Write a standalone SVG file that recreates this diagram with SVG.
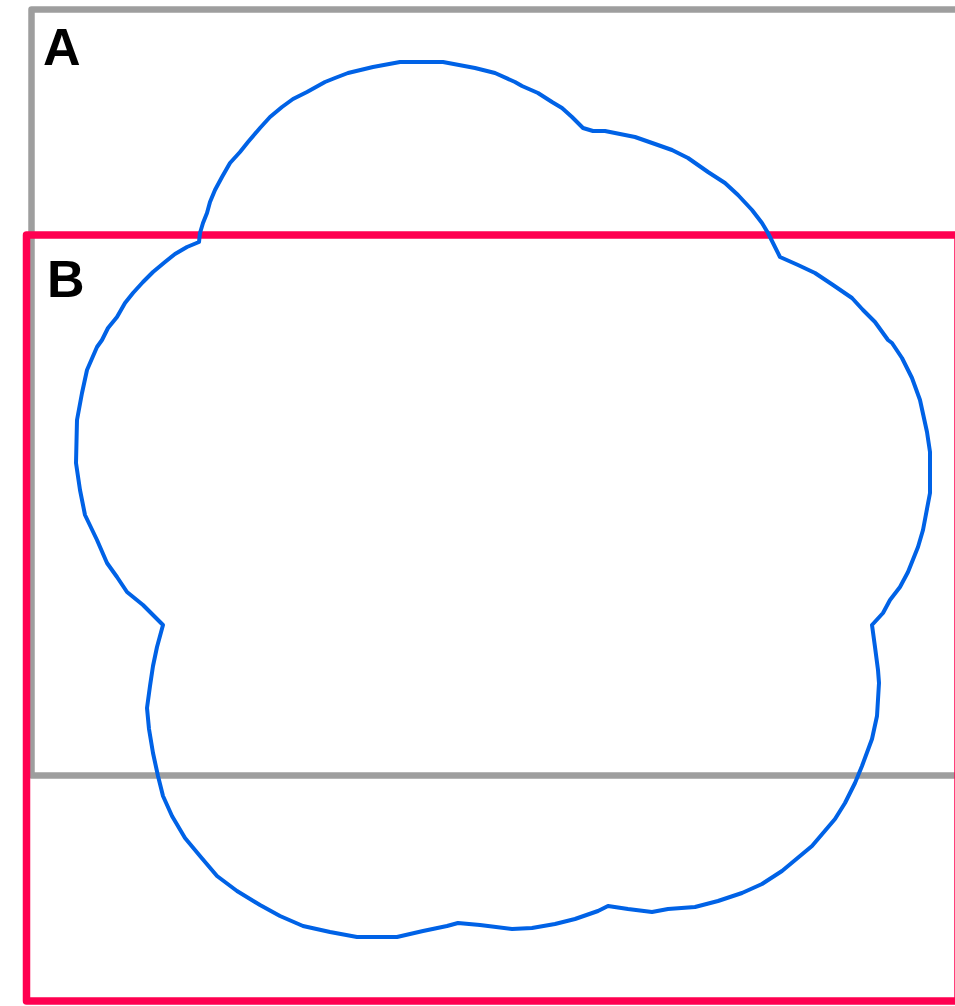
<svg xmlns="http://www.w3.org/2000/svg" width="955" height="1006" viewBox="0 0 955 1006">
<style>
.frame{fill:none;stroke-linejoin:round}
.a{stroke:#9e9e9e;stroke-width:6.5}
.b{stroke:#ff0050;stroke-width:7.5}
.lbl{font-family:"Liberation Sans",Arial,sans-serif;font-weight:bold;font-size:52px;fill:#000}
.blob{fill:none;stroke:#0062e6;stroke-width:4;stroke-linejoin:round}
</style>
<rect width="955" height="1006" fill="#fff"/>
<g id="A">
<rect class="frame a" x="31.5" y="9.5" width="932" height="766"/>
<text class="lbl" x="43" y="65">A</text>
</g>
<g id="B">
<rect class="frame b" x="26.5" y="235" width="931.5" height="766"/>
<text class="lbl" x="47" y="297">B</text>
</g>
<g id="shape">
<path class="blob" d="M400,62 L443,62 L475,68 L495,73 L515,82 L522,86 L538,93 L552,102 L562,108 L572,117 L583,128 L593,131 L605,131 L615,133 L635,137 L655,144 L672,150 L688,158 L708,172 L725,183 L738,195 L752,210 L762,223 L768,233 L780,257 L798,265 L815,273 L833,285 L852,298 L863,310 L875,322 L888,340 L892,343 L902,358 L912,378 L920,400 L927,432 L930,452 L930,493 L923,530 L918,547 L908,572 L900,587 L890,600 L883,613 L872,625 L875,647 L878,670 L879,683 L877,716 L872,739 L862,766 L855,783 L845,803 L835,819 L812,846 L782,871 L762,884 L742,893 L718,901 L695,907 L668,909 L652,912 L628,909 L608,906 L598,911 L575,919 L555,924 L532,928 L512,929 L480,925 L458,923 L447,926 L423,931 L397,937 L357,937 L330,932 L303,926 L280,916 L260,905 L237,891 L217,876 L200,856 L185,838 L172,816 L163,796 L158,776 L153,753 L149,729 L147,708 L150,686 L153,666 L157,647 L163,625 L143,605 L127,592 L117,577 L107,563 L97,540 L85,515 L80,490 L76,463 L77,420 L82,393 L87,370 L97,347 L102,340 L108,328 L117,317 L125,303 L133,293 L143,282 L153,272 L165,262 L175,254 L187,247 L199,242 L200,233 L203,223 L207,213 L210,202 L215,190 L222,177 L230,163 L240,152 L248,142 L260,128 L270,117 L282,107 L293,99 L307,92 L325,82 L335,78 L348,73 L373,67 Z"/>
</g>
</svg>
